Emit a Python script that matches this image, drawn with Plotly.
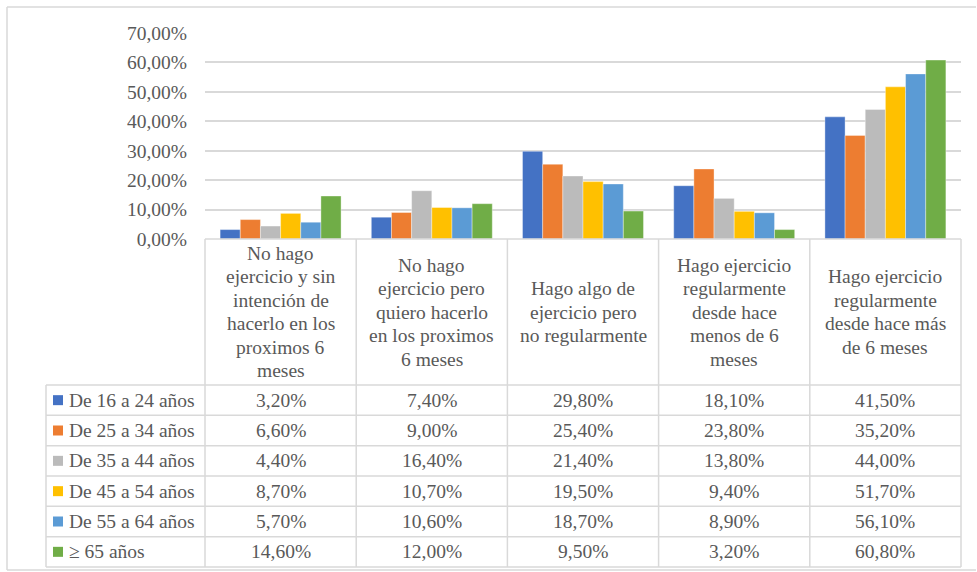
import plotly.graph_objects as go

# Stages of exercise behaviour (category axis) and age groups (series)
categories = [
    "No hago<br>ejercicio y sin<br>intención de<br>hacerlo en los<br>proximos 6<br>meses",
    "No hago<br>ejercicio pero<br>quiero hacerlo<br>en los proximos<br>6 meses",
    "Hago algo de<br>ejercicio pero<br>no regularmente",
    "Hago ejercicio<br>regularmente<br>desde hace<br>menos de 6<br>meses",
    "Hago ejercicio<br>regularmente<br>desde hace más<br>de 6 meses",
]
series_names = [
    "De 16 a 24 años",
    "De 25 a 34 años",
    "De 35 a 44 años",
    "De 45 a 54 años",
    "De 55 a 64 años",
    "≥ 65 años",
]
age_16_24 = [3.2, 7.4, 29.8, 18.1, 41.5]
age_25_34 = [6.6, 9.0, 25.4, 23.8, 35.2]
age_35_44 = [4.4, 16.4, 21.4, 13.8, 44.0]
age_45_54 = [8.7, 10.7, 19.5, 9.4, 51.7]
age_55_64 = [5.7, 10.6, 18.7, 8.9, 56.1]
age_65_plus = [14.6, 12.0, 9.5, 3.2, 60.8]
series_values = [age_16_24, age_25_34, age_35_44, age_45_54, age_55_64, age_65_plus]

y_ticks = [0, 10, 20, 30, 40, 50, 60, 70]

colors = ["#4472C4", "#ED7D31", "#BBBBBB", "#FFC000", "#5B9BD5", "#70AD47"]

W, H = 977, 572
FONT = "Liberation Serif"
TXT = "#595959"
LINE = "#D9D9D9"
FS = 19.5


def fx(px):
    return px / W


def fy(py):
    return 1 - py / H


def pct(v):
    return f"{v:.2f}".replace(".", ",") + "%"


# plot area and table geometry (pixels)
plot_l, plot_r = 205, 961
plot_t, plot_b = 33, 239
table_l = 46
header_b = 385
row_h = (567 - header_b) / len(series_names)
col_w = (plot_r - plot_l) / len(categories)

fig = go.Figure()
xcats = list(range(len(categories)))
for name, vals, col in zip(series_names, series_values, colors):
    fig.add_trace(go.Bar(
        x=xcats, y=vals, name=name,
        marker=dict(color=col, line=dict(width=0.6, color="rgba(255,255,255,0.6)")),
        showlegend=False, hoverinfo="skip",
    ))

fig.update_layout(
    width=W, height=H, autosize=False,
    margin=dict(l=0, r=0, t=0, b=0, pad=0),
    paper_bgcolor="white", plot_bgcolor="white",
    barmode="group", bargap=0.2, bargroupgap=0,
    showlegend=False,
    font=dict(family=FONT, color=TXT, size=FS),
    xaxis=dict(domain=[fx(plot_l), fx(plot_r)], range=[-0.5, len(categories) - 0.5],
               showticklabels=False, showgrid=False, zeroline=False, showline=False,
               automargin=False, fixedrange=True),
    yaxis=dict(domain=[fy(plot_b), fy(plot_t)], range=[0, 70],
               tickvals=y_ticks, ticktext=[pct(v) for v in y_ticks],
               showgrid=True, gridcolor=LINE, gridwidth=1.5, zeroline=False, showline=False,
               ticks="", ticklabelstandoff=17, tickfont=dict(family=FONT, color=TXT, size=FS),
               automargin=False, fixedrange=True),
)

shapes = []


def hline(y, x0, x1):
    shapes.append(dict(type="line", xref="paper", yref="paper", x0=fx(x0), x1=fx(x1), y0=fy(y), y1=fy(y),
                       line=dict(color=LINE, width=1.5)))


def vline(x, y0, y1):
    shapes.append(dict(type="line", xref="paper", yref="paper", x0=fx(x), x1=fx(x), y0=fy(y0), y1=fy(y1),
                       line=dict(color=LINE, width=1.5)))


# outer chart frame
hline(7, 7, 976)
hline(570, 7, 976)
vline(7, 7, 570)

# data table grid
hline(plot_b, plot_l, plot_r)
for i in range(len(series_names) + 1):
    hline(header_b + i * row_h, table_l, plot_r)
vline(table_l, header_b, 567)
for j in range(len(categories) + 1):
    vline(plot_l + j * col_w, plot_b, 567)

annotations = []
# category headers, one annotation per line
line_h = 23.5
for j, cat in enumerate(categories):
    lines = cat.split("<br>")
    cx = plot_l + (j + 0.5) * col_w
    cy = (plot_b + header_b) / 2
    start = cy - (len(lines) - 1) * line_h / 2
    for k, ln in enumerate(lines):
        annotations.append(dict(x=fx(cx), y=fy(start + k * line_h), xref="paper", yref="paper",
                                text=ln, showarrow=False, xanchor="center", yanchor="middle",
                                font=dict(family=FONT, color=TXT, size=FS)))

# table rows: legend key, series name and values
for i, (name, vals, col) in enumerate(zip(series_names, series_values, colors)):
    cy = header_b + (i + 0.5) * row_h
    shapes.append(dict(type="rect", xref="paper", yref="paper",
                       x0=fx(53), x1=fx(63), y0=fy(cy + 5), y1=fy(cy - 5),
                       fillcolor=col, line=dict(width=0)))
    annotations.append(dict(x=fx(67), y=fy(cy), xref="paper", yref="paper", text=name, showarrow=False,
                            xanchor="left", yanchor="middle", font=dict(family=FONT, color=TXT, size=FS)))
    for j, v in enumerate(vals):
        annotations.append(dict(x=fx(plot_l + (j + 0.5) * col_w), y=fy(cy), xref="paper", yref="paper",
                                text=pct(v), showarrow=False, xanchor="center", yanchor="middle",
                                font=dict(family=FONT, color=TXT, size=FS)))

fig.update_layout(shapes=shapes, annotations=annotations)

fig.write_html("out.html", config={"displayModeBar": False})
